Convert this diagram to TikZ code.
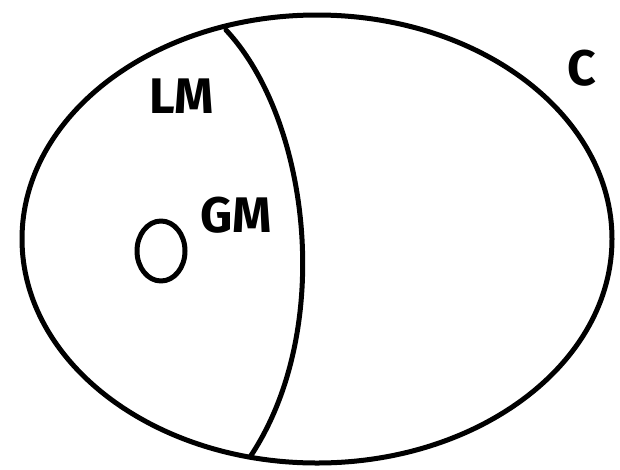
\documentclass[tikz,border=0pt]{standalone}
\usepackage{fontspec}
\setmainfont{Fira Sans}
\begin{document}
\begin{tikzpicture}[x=1pt,y=-1pt,
  stroke/.style={line width=5pt,line cap=round,line join=round},
  lbl/.style={font=\fontsize{50}{50}\selectfont\bfseries, inner sep=0pt}]
\useasboundingbox (0,0) rectangle (620,469);
\draw[stroke] (317,239) ellipse [x radius=295, y radius=224];
\coordinate (top) at (226,30);
\coordinate (bot) at (250,457);
\draw[stroke] (top) .. controls (310,120) and (335,330) .. (bot);
\draw[stroke] (161,251) ellipse [x radius=24, y radius=30];
\node[lbl] (lm) at (182,96) {LM};
\node[lbl] (gm) at (236,215) {GM};
\node[lbl] (c) at (582,68) {C};
\end{tikzpicture}
\end{document}
